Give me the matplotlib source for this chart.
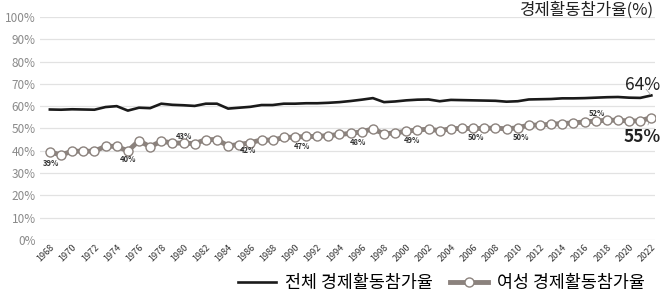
import matplotlib
matplotlib.use("Agg")
import matplotlib.pyplot as plt
import numpy as np

plt.rcParams['font.family'] = ['Noto Sans CJK KR', 'DejaVu Sans']

years = list(range(1968, 2023))
total_rate = [58.5, 58.4, 58.6, 58.5, 58.4, 59.6, 60.0, 58.0, 59.3, 59.1,
              61.1, 60.6, 60.4, 60.1, 61.1, 61.1, 58.9, 59.3, 59.7, 60.5,
              60.5, 61.1, 61.1, 61.3, 61.3, 61.5, 61.8, 62.3, 62.9, 63.6,
              61.8, 62.1, 62.6, 62.9, 63.0, 62.2, 62.8, 62.7, 62.6, 62.5,
              62.4, 62.0, 62.2, 63.0, 63.1, 63.2, 63.5, 63.5, 63.6, 63.8,
              64.0, 64.1, 63.8, 63.7, 64.8]
female_rate = [39.5, 38.1, 39.8, 39.8, 39.8, 42.0, 42.0, 39.9, 44.5, 41.8,
               44.3, 43.5, 43.4, 43.2, 45.0, 45.0, 42.2, 42.8, 43.6, 44.9,
               44.7, 46.0, 46.1, 46.4, 46.4, 46.8, 47.3, 47.8, 48.5, 49.8,
               47.6, 48.0, 48.8, 49.3, 49.7, 49.0, 49.9, 50.0, 50.0, 50.0,
               50.2, 49.8, 50.3, 51.5, 51.5, 51.9, 52.2, 52.5, 52.9, 53.3,
               53.7, 53.7, 53.3, 53.4, 54.9]

tick_years = list(range(1968, 2023, 2))
y_ticks = list(range(0, 101, 10))

small_labels = ["39%", "40%", "43%", "42%", "47%", "48%", "49%", "50%", "50%", "52%"]
small_label_x = [1968.1, 1975.0, 1980.0, 1985.8, 1990.6, 1995.7, 2000.5, 2006.3, 2010.3, 2017.1]
small_label_y = [34.1, 36.3, 46.6, 39.9, 42.0, 43.8, 44.8, 46.0, 46.0, 56.8]

title = "경제활동참가율(%)"
legend_labels = ["전체 경제활동참가율", "여성 경제활동참가율"]

fig = plt.figure(figsize=(6.64, 2.97), dpi=100)
ax = fig.add_axes([0.060, 0.192, 0.926, 0.751])

female_color = '#8b827d'
ax.plot(years, total_rate, color='#1a1a1a', lw=1.9, label=legend_labels[0], zorder=3)
ax.plot(years, female_rate, color=female_color, lw=3.5, marker='o', markersize=6.5,
        markerfacecolor='white', markeredgecolor=female_color, markeredgewidth=1.0,
        label=legend_labels[1], zorder=4)

ax.set_xlim(1967.1, 2022.3)
ax.set_ylim(0, 100)
ax.set_yticks(y_ticks)
ax.set_yticklabels([f"{v}%" for v in y_ticks])
ax.set_xticks(tick_years)
ax.set_xticklabels([str(y) for y in tick_years], rotation=45, ha='right',
                   rotation_mode='anchor', fontsize=6.6, color='#333333')
ax.tick_params(axis='y', length=0, labelsize=8.5, labelcolor='#8a8a8a', pad=3)
ax.tick_params(axis='x', length=0, pad=2)
ax.grid(axis='y', color='#e2e2e2', lw=0.9)
ax.set_axisbelow(True)
for s in ax.spines.values():
    s.set_visible(False)

for t, x, y in zip(small_labels, small_label_x, small_label_y):
    ax.text(x, y, t, fontsize=5.5, color='#333333', ha='center', va='center',
            fontweight='bold', zorder=6)

# end labels
ax.annotate("64%", xy=(years[-1], total_rate[-1]), xytext=(2021.2, 69.5),
            fontsize=12.5, color='#222222', ha='center', va='center',
            arrowprops=dict(arrowstyle='-', color='#aaaaaa', lw=0.6,
                            shrinkA=4, shrinkB=1))
ax.annotate("55%", xy=(years[-1], female_rate[-1]), xytext=(2021.2, 46.3),
            fontsize=12.5, color='#222222', ha='center', va='center',
            fontweight='bold',
            arrowprops=dict(arrowstyle='-', color='#aaaaaa', lw=0.6,
                            shrinkA=6, shrinkB=3))

fig.text(0.985, 0.995, title, fontsize=12, ha='right', va='top', color='#222222')

fig.legend(loc='center', bbox_to_anchor=(0.665, 0.047), ncol=2, frameon=False,
           fontsize=12.5, handlelength=2.2, columnspacing=1.0, handletextpad=0.5)

fig.savefig("out.png", dpi=100)
